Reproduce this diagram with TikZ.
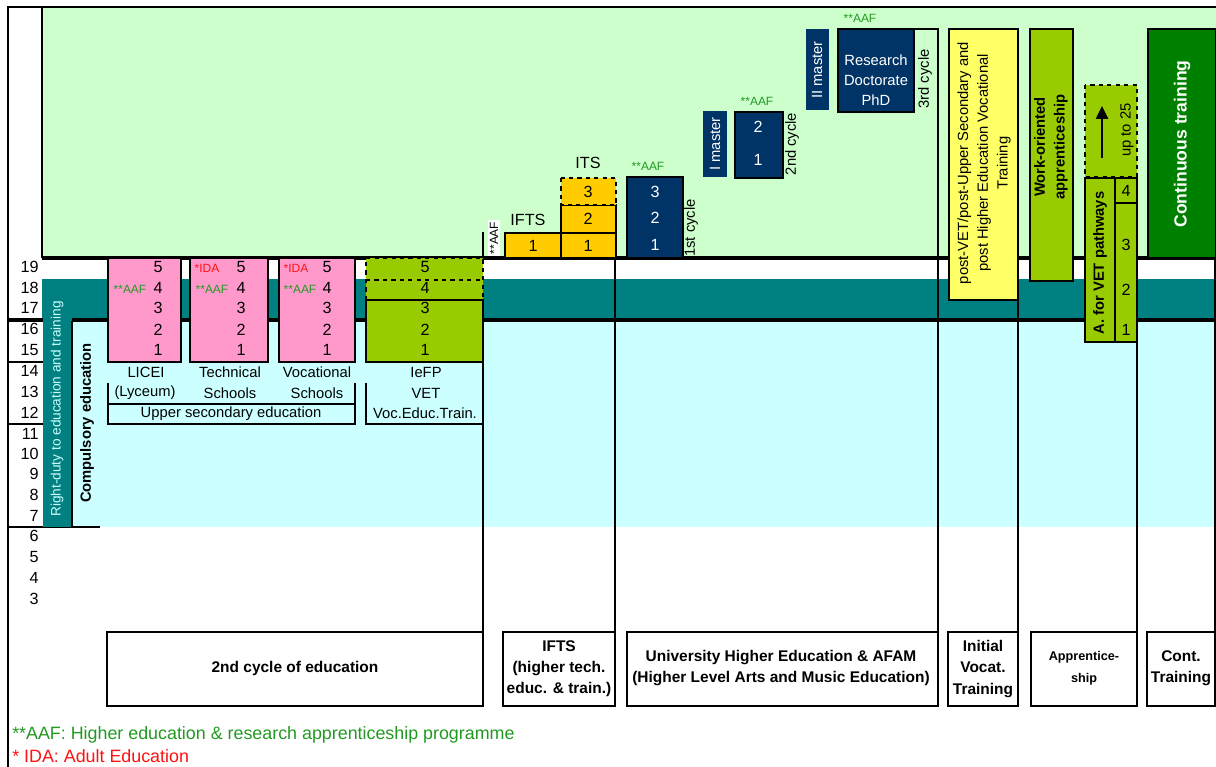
\documentclass[tikz,border=0pt]{standalone}
\usepackage{fontspec}
\setmainfont{Liberation Sans}
\usepackage[HTML]{xcolor}
\usepackage{tikz}
\usetikzlibrary{positioning, arrows, arrows.meta}

\definecolor{topgreen}{HTML}{CCFFCC}
\definecolor{bandteal}{HTML}{008080}
\definecolor{lowcyan}{HTML}{CCFFFF}
\definecolor{lyceumpink}{HTML}{FF99CC}
\definecolor{vetgreen}{HTML}{99CC00}
\definecolor{uninavy}{HTML}{003366}
\definecolor{iftsgold}{HTML}{FFCC00}
\definecolor{postyellow}{HTML}{FFFF66}
\definecolor{contgreen}{HTML}{008000}
\definecolor{aafgreen}{HTML}{229922}
\definecolor{idared}{HTML}{FF1111}

\begin{document}
\begin{tikzpicture}[x=0.025cm, y=-0.025cm,
  every node/.style={inner sep=0pt},
  num/.style={font=\fontsize{11.5}{13}\selectfont},
  lbl/.style={font=\fontsize{10.5}{13}\selectfont},
  tiny/.style={font=\fontsize{8.5}{10}\selectfont},
  aaf/.style={tiny, text=aafgreen},
  ida/.style={tiny, text=idared},
  boxline/.style={line width=1.6pt},
  thickline/.style={line width=2.8pt},
  colline/.style={line width=1.4pt},
  botbox/.style={draw, line width=1.6pt, fill=white},
  botlbl/.style={font=\bfseries\fontsize{11}{15}\selectfont, align=center}]
\useasboundingbox (0,0) rectangle (1216,767);

% background bands
\fill[topgreen] (42,8) rectangle (1216,258);
\fill[bandteal] (42,279) rectangle (1216,320);
\fill[lowcyan] (72,320) rectangle (1216,527);

% frame and grid
\draw[line width=2pt] (8,767) -- (8,7) -- (1216,7);
\draw[line width=2pt] (42,7) -- (42,258);
\draw[thickline] (42,258) -- (1216,258);
\draw[thickline] (8,320) -- (1216,320);
\draw[colline] (8,362) -- (43,362);
\draw[colline] (8,424) -- (43,424);
\draw[colline] (8,527) -- (100,527);
\draw[colline] (483,232) -- (483,258);
\draw[colline] (483,300) -- (483,632);
\draw[colline] (615,258) -- (615,632);
\draw[colline] (914,29) -- (938,29) -- (938,632);
\draw[colline] (1018,300) -- (1018,632);
\draw[colline] (1137,342) -- (1137,632);
\draw[colline] (1215,258) -- (1215,632);

% left bars
\fill[bandteal] (43,279) rectangle (72,527);
\draw[colline] (72,321) -- (72,527);
\node[rotate=90, text=lowcyan, font=\fontsize{9.7}{11}\selectfont] (rightduty) at (57,409) {Right-duty to education and training};
\node[rotate=90, font=\bfseries\fontsize{10.5}{12}\selectfont] (compulsory) at (87,423) {Compulsory education};

% ages
\node[num, anchor=east] (a19) at (39,267) {19};
\node[num, anchor=east] (a18) at (39,288) {18};
\node[num, anchor=east] (a17) at (39,308) {17};
\node[num, anchor=east] (a16) at (39,329) {16};
\node[num, anchor=east] (a15) at (39,350) {15};
\node[num, anchor=east] (a14) at (39,371) {14};
\node[num, anchor=east] (a13) at (39,392) {13};
\node[num, anchor=east] (a12) at (39,413) {12};
\node[num, anchor=east] (a11) at (39,434) {11};
\node[num, anchor=east] (a10) at (39,454) {10};
\node[num, anchor=east] (a9)  at (39,474) {9};
\node[num, anchor=east] (a8)  at (39,495) {8};
\node[num, anchor=east] (a7)  at (39,516) {7};
\node[num, anchor=east] (a6)  at (39,536) {6};
\node[num, anchor=east] (a5)  at (39,557) {5};
\node[num, anchor=east] (a4)  at (39,578) {4};
\node[num, anchor=east] (a3)  at (39,599) {3};

% upper secondary schools
\draw[boxline, fill=lyceumpink] (108,258) rectangle (181,362);
\draw[boxline, fill=lyceumpink] (190,258) rectangle (268,362);
\draw[boxline, fill=lyceumpink] (279,258) rectangle (355,362);
\node[num] (ly5) at (158,267) {5};
\node[num] (ly4) at (158,288) {4};
\node[num] (ly3) at (158,308) {3};
\node[num] (ly2) at (158,330) {2};
\node[num] (ly1) at (158,350) {1};
\node[num] (te5) at (241,267) {5};
\node[num] (te4) at (241,288) {4};
\node[num] (te3) at (241,308) {3};
\node[num] (te2) at (241,330) {2};
\node[num] (te1) at (241,350) {1};
\node[num] (vo5) at (327,267) {5};
\node[num] (vo4) at (327,288) {4};
\node[num] (vo3) at (327,308) {3};
\node[num] (vo2) at (327,330) {2};
\node[num] (vo1) at (327,350) {1};
\node[aaf] (lyaaf) at (130,289) {**AAF};
\node[aaf] (teaaf) at (212,289) {**AAF};
\node[aaf] (voaaf) at (300,289) {**AAF};
\node[ida] (teida) at (207,268) {*IDA};
\node[ida] (voida) at (296,268) {*IDA};

% IeFP
\fill[vetgreen] (366,258) rectangle (483,362);
\draw[boxline] (366,300) rectangle (483,362);
\draw[boxline, dashed] (366,300) -- (366,258) -- (483,258) -- (483,300);
\draw[boxline, dashed] (366,280) -- (483,280);
\node[num] (ie5) at (425,267) {5};
\node[num] (ie4) at (425,288) {4};
\node[num] (ie3) at (425,308) {3};
\node[num] (ie2) at (425,330) {2};
\node[num] (ie1) at (425,350) {1};

% school names
\node[lbl] (licei) at (146,372) {LICEI};
\node[lbl] (lyceum) at (145,393) {(Lyceum)};
\node[lbl] (techn) at (230,372) {Technical};
\node[lbl] (techs) at (230,393) {Schools};
\node[lbl] (vocn) at (317,372) {Vocational};
\node[lbl] (vocs) at (317,393) {Schools};
\node[lbl] (iefp) at (426,372) {IeFP};
\node[lbl] (vet) at (426,393) {VET};
\node[lbl] (voceduc) at (425,413) {Voc.Educ.Train.};
\draw[colline] (108,383) -- (108,424) -- (355,424) -- (355,383);
\draw[colline] (108,404) -- (355,404);
\node[lbl] (uppersec) at (231,414) {Upper secondary education};
\draw[colline] (366,383) -- (366,424) -- (483,424);

% IFTS and ITS
\node[tiny, rotate=90, fill=white, inner sep=1.5pt] (iftsaaf) at (494,238) {**AAF};
\draw[boxline, fill=iftsgold] (505,233) rectangle (561,258);
\draw[boxline, fill=iftsgold] (561,233) rectangle (616,258);
\draw[boxline, fill=iftsgold] (561,205) rectangle (616,233);
\draw[boxline, fill=iftsgold, dashed] (561,178) rectangle (616,205);
\node[num] (ifts1) at (533,246) {1};
\node[num] (its1) at (588,246) {1};
\node[num] (its2) at (588,219) {2};
\node[num] (its3) at (588,192) {3};
\node[num] (ifts) at (528,220) {IFTS};
\node[num] (its) at (588,163) {ITS};

% university
\draw[boxline, fill=uninavy] (627,177) rectangle (683,258);
\node[num, text=white] (c1y3) at (655,192) {3};
\node[num, text=white] (c1y2) at (655,218) {2};
\node[num, text=white] (c1y1) at (655,245) {1};
\node[aaf] (c1aaf) at (648,166) {**AAF};
\node[lbl, rotate=90] (cycle1) at (691,228) {1st cycle};
\fill[uninavy] (703,111) rectangle (727,177);
\node[lbl, rotate=90, text=white] (master1) at (715,144) {I master};
\draw[boxline, fill=uninavy] (735,112) rectangle (783,178);
\node[num, text=white] (c2y2) at (758,127) {2};
\node[num, text=white] (c2y1) at (758,160) {1};
\node[aaf] (c2aaf) at (757,101) {**AAF};
\node[lbl, rotate=90] (cycle2) at (792,144) {2nd cycle};
\fill[uninavy] (806,29) rectangle (829,110);
\node[lbl, rotate=90, text=white] (master2) at (817,70) {II master};
\draw[boxline, fill=uninavy] (838,29) rectangle (914,112);
\node[lbl, text=white, align=center, font=\fontsize{10.5}{14.3}\selectfont] (phd) at (876,80) {Research\\Doctorate\\PhD};
\node[aaf] (c3aaf) at (860,18) {**AAF};
\node[lbl, rotate=90] (cycle3) at (925,79) {3rd cycle};

% vocational training and apprenticeship
\draw[boxline, fill=postyellow] (949,29) rectangle (1018,300);
\node[lbl, rotate=90, align=center, font=\fontsize{10.5}{14}\selectfont] (postvet) at (984,163) {post-VET/post-Upper Secondary and\\post Higher Education Vocational\\Training};
\draw[boxline, fill=vetgreen] (1030,29) rectangle (1073,281);
\node[rotate=90, align=center, font=\bfseries\fontsize{10.5}{14}\selectfont] (workor) at (1051,147) {Work-oriented\\apprenticeship};
\draw[boxline, fill=vetgreen, dashed] (1085,85) rectangle (1137,177);
\coordinate (arrlow) at (1102,158);
\coordinate (arrhigh) at (1102,106);
\draw[line width=1.4pt, -{Triangle[length=3.2mm, width=3mm]}] (arrlow) -- (arrhigh);
\node[lbl, rotate=90] (upto) at (1127,130) {up to 25};
\draw[boxline, fill=vetgreen] (1085,178) rectangle (1115,342);
\node[rotate=90, font=\bfseries\fontsize{10.5}{12}\selectfont] (avet) at (1100,263) {A. for VET pathways};
\draw[boxline, fill=vetgreen] (1115,178) rectangle (1137,203);
\draw[boxline, fill=vetgreen] (1115,203) rectangle (1137,342);
\node[num] (ap4) at (1126,191) {4};
\node[num] (ap3) at (1126,245) {3};
\node[num] (ap2) at (1126,290) {2};
\node[num] (ap1) at (1126,330) {1};
\draw[boxline, fill=contgreen] (1148,29) rectangle (1216,258);
\node[rotate=90, text=white, font=\bfseries\fontsize{12.5}{14}\selectfont] (conttrain) at (1182,144) {Continuous training};

% bottom captions
\draw[botbox] (107,632) rectangle (483,706);
\node[botlbl] (secondcyc) at (295,668) {2nd cycle of education};
\draw[botbox] (503,632) rectangle (615,706);
\node[botlbl] (iftsbot) at (559,669) {IFTS\\(higher tech.\\educ. \& train.)};
\draw[botbox] (627,632) rectangle (938,706);
\node[botlbl, font=\bfseries\fontsize{11}{14.3}\selectfont] (unibot) at (781,668) {University Higher Education \& AFAM\\(Higher Level Arts and Music Education)};
\draw[botbox] (948,632) rectangle (1018,706);
\node[botlbl] (initbot) at (983,669) {Initial\\Vocat.\\Training};
\draw[botbox] (1031,632) rectangle (1137,706);
\node[botlbl, font=\bfseries\fontsize{9}{15.5}\selectfont] (apprbot) at (1084,668) {Apprentice-\\ship};
\draw[botbox] (1147,632) rectangle (1215,706);
\node[botlbl] (contbot) at (1181,668) {Cont.\\Training};

% notes
\node[anchor=west, text=aafgreen, font=\fontsize{12.7}{14}\selectfont] (noteaaf) at (12,735) {**AAF: Higher education \& research apprenticeship programme};
\node[anchor=west, text=idared, font=\fontsize{12.7}{14}\selectfont] (noteida) at (12,756) {* IDA: Adult Education};
\end{tikzpicture}
\end{document}
